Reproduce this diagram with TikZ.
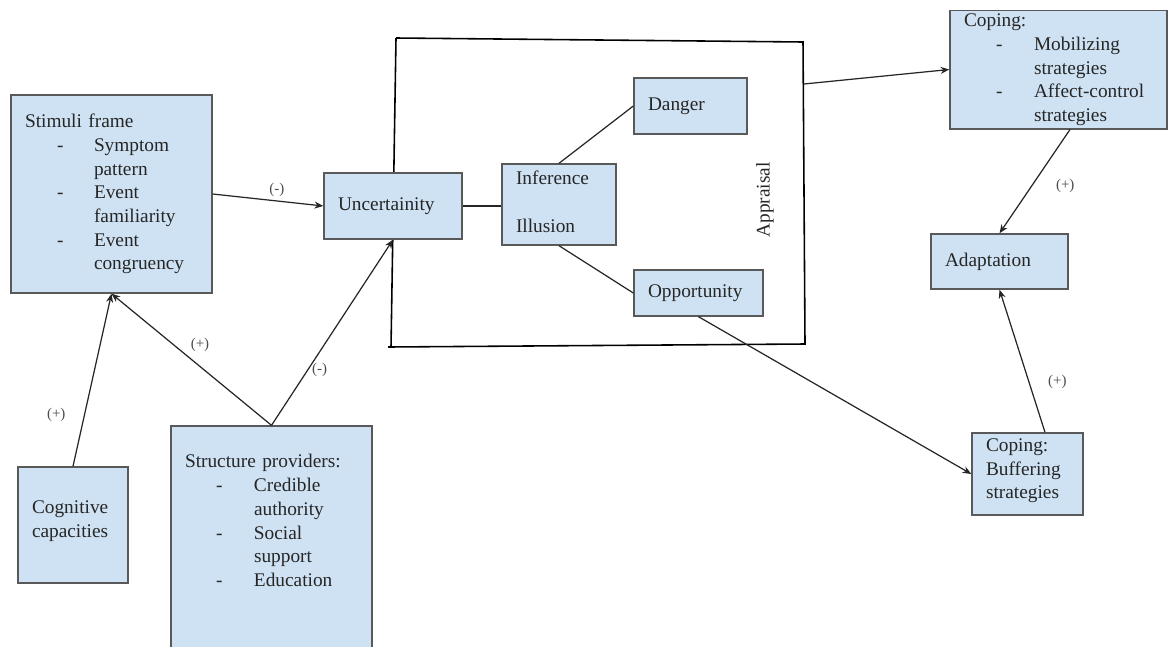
\documentclass[tikz,border=0pt]{standalone}
\usepackage{fontspec}
\setmainfont{Liberation Serif}
\usepackage{tikz}
\usetikzlibrary{arrows.meta,calc}
\definecolor{boxblue}{HTML}{CFE2F3}
\definecolor{boxgray}{HTML}{595959}
\definecolor{inkgray}{HTML}{262626}
\tikzset{
         box/.style=
          {
           draw=boxgray,fill=boxblue,line width=0.8pt,
           align=left,inner xsep=0.28cm,inner ysep=0pt,
           text=inkgray,font=\fontsize{11}{13.5}\selectfont
          },
         frame/.style={draw=black,line width=0.9pt},
         arr/.style={-{Stealth[length=5pt,width=4pt]},line width=0.7pt,draw=black!85},
         link/.style={line width=0.7pt,draw=black!85},
         lbl/.style={font=\fontsize{8.5}{10}\selectfont,text=black!70,inner sep=2pt}
        }

\begin{document}
\begin{tikzpicture}[x=0.02cm,y=-0.02cm]
\useasboundingbox(0,0)rectangle(1168,646);
\clip(0,0)rectangle(1168,646);
\draw[frame](396,38)--(803,42)--(805,344)--(388,347);
\draw[frame](396,38)--(391,347);
\coordinate(approut)at(804,84);
\node[rotate=90,font=\fontsize{11}{13.5}\selectfont,text=inkgray](apprtxt)at(765,200){Appraisal};
\node[box,text width=3.46cm,minimum height=3.96cm](stim)at(111.5,194){%
\begin{tabular}{@{\hspace{0.64cm}}p{0.74cm}@{}l@{}}
\multicolumn{2}{@{}l@{}}{Stimuli frame}\\
-&Symptom\\
&pattern\\
-&Event\\
&familiarity\\
-&Event\\
&congruency
\end{tabular}};
\node[box,text width=2.2cm,minimum height=1.32cm](unc)at(393,206){Uncertainity};
\node[box,text width=1.72cm,minimum height=1.62cm](inf)at(559,204.5){\raisebox{3pt}{Inference}\\[13.5pt]\raisebox{3pt}{Illusion}};
\node[box,text width=1.7cm,minimum height=1.12cm](dang)at(690.5,106){Danger};
\node[box,text width=2.02cm,minimum height=0.92cm](opp)at(698.5,293){\raisebox{2pt}{Opportunity}};
\node[box,text width=3.78cm,minimum height=2.3cm](mob)at(1058.5,69.5){%
\begin{tabular}{@{\hspace{0.64cm}}p{0.76cm}@{}l@{}}
\multicolumn{2}{@{}l@{}}{Coping:}\\
-&Mobilizing\\
&strategies\\
-&Affect-control\\
&strategies
\end{tabular}};
\node[box,text width=2.18cm,minimum height=1.1cm](adapt)at(999.5,261.5){Adaptation};
\node[box,text width=1.66cm,minimum height=1.64cm](buf)at(1027.5,474){%
\begin{tabular}{@{}l@{}}Coping:\\Buffering\\strategies\\[4pt]\end{tabular}};
\node[box,text width=1.64cm,minimum height=2.32cm](cog)at(73,525){%
\begin{tabular}{@{}l@{}}Cognitive\\capacities\\[5pt]\end{tabular}};
\node[box,text width=3.46cm,minimum height=5.28cm](struct)at(271.5,558){%
\begin{tabular}{@{\hspace{0.62cm}}p{0.76cm}@{}l@{}}
\multicolumn{2}{@{}l@{}}{Structure providers:}\\
-&Credible\\
&authority\\
-&Social\\
&support\\
-&Education\\
&\\
&\\
&
\end{tabular}};
\draw[arr](stim.east)--node[lbl,above,pos=0.58]{(-)}(unc.west);
\draw[arr](cog.north)--node[lbl,left,pos=0.3,xshift=-0.3cm]{(+)}(stim.south);
\draw[arr](struct.north)--node[lbl,above right,pos=0.53]{(+)}(stim.south);
\draw[arr](struct.north)--node[lbl,right,pos=0.3]{(-)}(unc.south);
\draw[link](unc.east)--(unc.east-|inf.west);
\draw[link](inf.north)--(dang.west);
\draw[link](inf.south)--(opp.west);
\draw[arr](opp.south)--(buf.west);
\draw[arr](approut)--(mob.west);
\draw[arr]([xshift=0.23cm]mob.south)--node[lbl,right,pos=0.54,xshift=0.4cm]{(+)}(adapt.north);
\draw[arr]([xshift=0.35cm]buf.north)--node[lbl,right,pos=0.35,xshift=0.3cm]{(+)}(adapt.south);
\end{tikzpicture}
\end{document}
